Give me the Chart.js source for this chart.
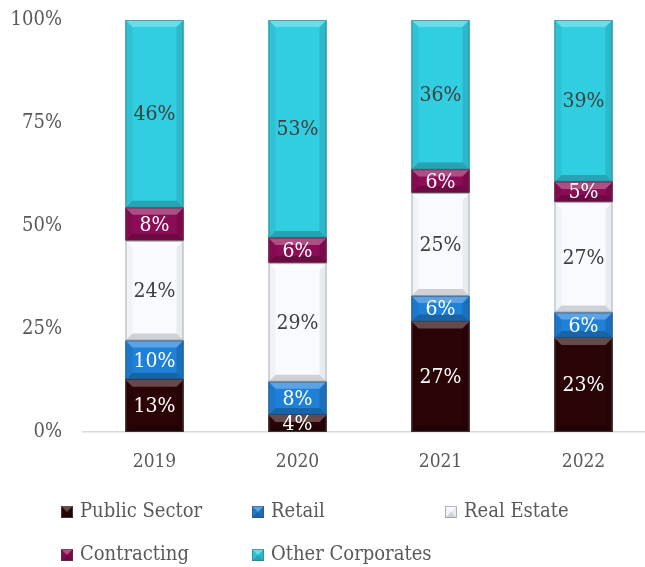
<!DOCTYPE html>
<html>
<head>
<meta charset="utf-8">
<script src="https://cdn.jsdelivr.net/npm/chart.js@4"></script>
<style>
  html, body { margin: 0; padding: 0; background: #ffffff; overflow: hidden; }
  #wrap { width: 655px; height: 567px; position: relative; }
</style>
</head>
<body>
<div id="wrap"><canvas id="chart"></canvas></div>
<script>
// Loan book mix by sector, share of total (%)
const years = ['2019', '2020', '2021', '2022'];
const publicSector    = [12.7, 4.1, 26.8, 22.8];
const retail          = [9.5, 8.1, 6.2, 6.2];
const realEstate      = [24.2, 28.8, 25.0, 26.8];
const contracting     = [8.0, 6.1, 5.7, 4.9];
const otherCorporates = [45.6, 52.9, 36.3, 39.3];
const yTicks = [0, 25, 50, 75, 100];

const FONT = "'DejaVu Serif Condensed', 'DejaVu Serif', serif";

const seriesStyle = [
  { label: 'Public Sector',    data: publicSector,    color: '#2b0506', text: '#ffffff', edge: 'rgba(90,90,90,0.55)',   side: 0.12 },
  { label: 'Retail',           data: retail,          color: '#1f80d8', text: '#ffffff', edge: 'rgba(60,70,90,0.5)',    side: 0.12 },
  { label: 'Real Estate',      data: realEstate,      color: '#f7fafe', text: '#404040', edge: 'rgba(130,135,140,0.6)', side: 0.06 },
  { label: 'Contracting',      data: contracting,     color: '#8c0c56', text: '#ffffff', edge: 'rgba(80,60,70,0.5)',    side: 0.12 },
  { label: 'Other Corporates', data: otherCorporates, color: '#31cde0', text: '#404040', edge: 'rgba(60,100,110,0.5)',  side: 0.10 }
];

// Bevelled block: light top face, darker bottom face, shaded sides
function drawBevel(ctx, l, t, r, b, style) {
  const h = b - t, w = r - l;
  const s = Math.max(0, Math.min(7, h / 2, w / 2));
  const poly = (pts, fill) => {
    ctx.beginPath();
    ctx.moveTo(pts[0][0], pts[0][1]);
    for (let i = 1; i < pts.length; i++) ctx.lineTo(pts[i][0], pts[i][1]);
    ctx.closePath();
    ctx.fillStyle = fill;
    ctx.fill();
  };
  poly([[l, t], [r, t], [r - s, t + s], [l + s, t + s]], 'rgba(255,255,255,0.28)');
  poly([[l, b], [r, b], [r - s, b - s], [l + s, b - s]], 'rgba(0,0,0,' + (style.side + 0.1) + ')');
  poly([[l, t], [l + s, t + s], [l + s, b - s], [l, b]], 'rgba(0,0,0,' + (style.side * 0.5) + ')');
  poly([[r, t], [r - s, t + s], [r - s, b - s], [r, b]], 'rgba(0,0,0,' + style.side + ')');
  ctx.strokeStyle = style.edge;
  ctx.lineWidth = 1;
  ctx.strokeRect(l + 0.5, t + 0.5, w - 1, h - 1);
}

const bevelAndLabels = {
  id: 'bevelAndLabels',
  afterDatasetsDraw(chart) {
    const ctx = chart.ctx;
    ctx.save();
    chart.data.datasets.forEach((ds, di) => {
      const meta = chart.getDatasetMeta(di);
      if (meta.hidden) return;
      meta.data.forEach(el => {
        const p = el.getProps(['x', 'y', 'base', 'width'], true);
        const l = p.x - p.width / 2, r = p.x + p.width / 2;
        const t = Math.min(p.y, p.base), b = Math.max(p.y, p.base);
        drawBevel(ctx, l, t, r, b, seriesStyle[di]);
      });
    });
    ctx.font = '21px ' + FONT;
    ctx.textAlign = 'center';
    ctx.textBaseline = 'middle';
    chart.data.datasets.forEach((ds, di) => {
      const meta = chart.getDatasetMeta(di);
      meta.data.forEach((el, i) => {
        const p = el.getProps(['x', 'y', 'base'], true);
        ctx.fillStyle = seriesStyle[di].text;
        ctx.fillText(Math.round(ds.data[i]) + '%', p.x, (p.y + p.base) / 2 + 1);
      });
    });
    ctx.restore();
  }
};

// Two-row legend laid out on a fixed column grid
const gridLegend = {
  id: 'gridLegend',
  afterDraw(chart) {
    const ctx = chart.ctx;
    const cols = [61, 252, 445];
    const rows = [512, 555];
    ctx.save();
    ctx.font = '20px ' + FONT;
    ctx.textAlign = 'left';
    ctx.textBaseline = 'middle';
    seriesStyle.forEach((s, i) => {
      const x = cols[i % 3], y = rows[Math.floor(i / 3)];
      ctx.fillStyle = s.color;
      ctx.fillRect(x, y - 6, 12, 12);
      drawBevel(ctx, x, y - 6, x + 12, y + 6, s);
      ctx.fillStyle = '#595959';
      ctx.fillText(s.label, x + 19, y);
    });
    ctx.restore();
  }
};

new Chart(document.getElementById('chart'), {
  type: 'bar',
  data: {
    labels: years,
    datasets: seriesStyle.map(s => ({
      label: s.label,
      data: s.data,
      backgroundColor: s.color,
      borderWidth: 0,
      barThickness: 58
    }))
  },
  options: {
    responsive: true,
    maintainAspectRatio: false,
    animation: false,
    layout: { padding: { top: 20, bottom: 90, left: 0, right: 0 } },
    plugins: {
      legend: { display: false },
      tooltip: { enabled: false }
    },
    scales: {
      x: {
        stacked: true,
        grid: { display: false, drawTicks: false },
        border: { display: true, color: '#d9d9d9', width: 1.5 },
        ticks: { color: '#595959', font: { family: FONT, size: 19 }, padding: 19 },
        afterFit: s => { s.height = 45; }
      },
      y: {
        stacked: true,
        min: 0,
        max: 100,
        afterBuildTicks: s => { s.ticks = yTicks.map(v => ({ value: v })); },
        grid: { display: false, drawTicks: false },
        border: { display: false },
        ticks: { color: '#595959', font: { family: FONT, size: 20 }, padding: 21, callback: v => v + '%' },
        afterFit: s => { s.width = 83; s.paddingTop = 0; s.paddingBottom = 0; }
      }
    }
  },
  plugins: [bevelAndLabels, gridLegend]
});
</script>
</body>
</html>
